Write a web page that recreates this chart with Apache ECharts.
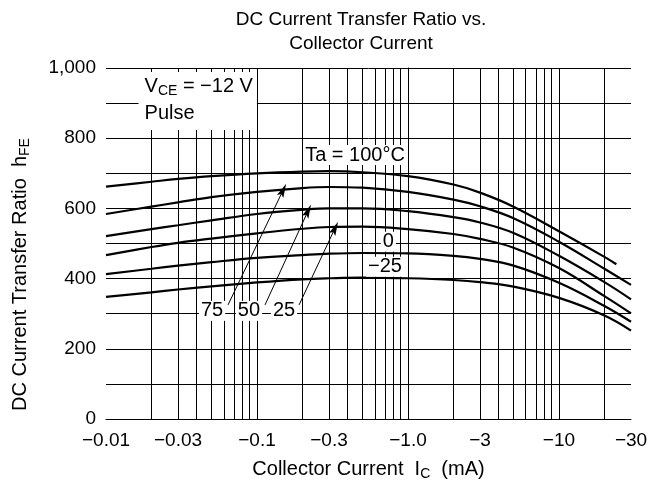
<!DOCTYPE html>
<html>
<head>
<meta charset="utf-8">
<script src="https://cdn.jsdelivr.net/npm/echarts@6/dist/echarts.min.js"></script>
<style>html,body{margin:0;padding:0;background:#fff}#c{width:663px;height:490px}</style>
</head>
<body>
<div id="c"></div>
<script>
// ---- data (collector current in mA, magnitude; hFE) ----
const currents    = [0.01,0.02,0.03,0.05,0.1,0.2,0.3,0.5,1,2,3,5,10,20,30];
const currents100 = [0.01,0.02,0.03,0.05,0.1,0.2,0.3,0.5,1,2,3,5,10,20,24];
const hfe100 = [662,676,684,692,700,705,706,703,692,668,645,605,535,462,441];
const hfe75  = [584,605,617,632,647,658,661,659,647,625,606,572,505,428,382];
const hfe50  = [521,541,552,566,584,596,600,600,592,575,560,530,465,390,341];
const hfe25  = [467,490,502,514,529,542,547,548,541,527,513,488,430,350,301];
const hfe0   = [413,428,437,447,459,467,471,473,472,465,456,437,388,322,277];
const hfeM25 = [348,361,369,378,389,398,401,403,401,396,390,377,345,295,252];

const tickCurrents = [0.01,0.03,0.1,0.3,1,3,10,30];
const tickLabels   = ['\u22120.01','\u22120.03','\u22120.1','\u22120.3','\u22121.0','\u22123','\u221210','\u221230'];
const gridCurrents = [0.02,0.03,0.04,0.05,0.06,0.07,0.08,0.09,0.1,0.2,0.3,0.4,0.5,0.6,0.7,0.8,0.9,1,2,3,4,5,6,7,8,9,10,20,30];

// annotation anchors (current mA, hFE)
const curveLabelPos = {ta100:[0.446,752], t0:[0.741,505], tm25:[0.704,434], t75:[0.0504,308], t50:[0.0885,308], t25:[0.151,308]};
const arrows = [ [[0.0643,325],[0.149,652]], [[0.113,325],[0.218,593]], [[0.19,325],[0.329,544]] ];
const condPos = [0.0163, 906];

const FONT = 'Liberation Sans, Arial, Helvetica, sans-serif';
const L = Math.log10;
const toPts = (xs, ys) => xs.map((x,i)=>[L(x), ys[i]]);

const chart = echarts.init(document.getElementById('c'), null, {renderer:'canvas'});

function curve(name, xs, ys){
  return {name, type:'line', data: toPts(xs, ys), smooth:0.4, showSymbol:false, symbol:'none',
    z:3, lineStyle:{color:'#000', width:2.2}, silent:true};
}

const richName = {
  n:{fontFamily:FONT, fontSize:20, color:'#000', lineHeight:28},
  s:{fontFamily:FONT, fontSize:14, color:'#000', lineHeight:28, padding:[10,0,0,0]}
};
const richLbl = {
  n:{fontFamily:FONT, fontSize:20, color:'#000', lineHeight:27},
  s:{fontFamily:FONT, fontSize:14, color:'#000', lineHeight:27, padding:[10,0,0,0]}
};

function textPoint(pos, text){
  return {coord:[L(pos[0]), pos[1]], symbol:'circle', symbolSize:1,
    itemStyle:{color:'rgba(0,0,0,0)'},
    label:{show:true, position:'inside', formatter:text, color:'#000', fontFamily:FONT, fontSize:20,
      backgroundColor:'#fff', padding:[0,2,0,2]}};
}

const option = {
  animation:false,
  title:{text:'DC Current Transfer Ratio vs.\nCollector Current', left:356, top:3, textAlign:'center',
    textStyle:{fontFamily:FONT, fontSize:19, fontWeight:'normal', color:'#000', lineHeight:24}},
  grid:{left:106, right:32, top:68, bottom:71},
  xAxis:{type:'value', min:L(0.01), max:L(30),
    axisLine:{show:true, lineStyle:{color:'#000', width:1}},
    axisTick:{show:false}, splitLine:{show:false},
    axisLabel:{customValues: tickCurrents.map(L), color:'#000', fontFamily:FONT, fontSize:19, margin:12,
      formatter:(v)=>{ let bi=0, bd=1e9; tickCurrents.forEach((c,i)=>{const d=Math.abs(L(c)-v); if(d<bd){bd=d;bi=i;}}); return tickLabels[bi]; }},
    name:'{n|Collector Current  I}{s|C}{n|  (mA)}', nameLocation:'middle', nameGap:36,
    nameTextStyle:{rich:richName}},
  yAxis:{type:'value', min:0, max:1000, interval:100,
    axisLine:{show:true, lineStyle:{color:'#000', width:1}},
    axisTick:{show:false},
    splitLine:{show:true, lineStyle:{color:'#000', width:1}},
    axisLabel:{color:'#000', fontFamily:FONT, fontSize:19, margin:10,
      formatter:(v)=> v%200===0 ? v.toLocaleString('en-US') : ''},
    name:'{n|DC Current Transfer Ratio  h}{s|FE}', nameLocation:'middle', nameGap:72, nameRotate:90,
    nameTextStyle:{rich:richName, padding:[0,62,0,0]}},
  series:[
    {type:'line', data:[], z:1, silent:true,
      markLine:{silent:true, symbol:'none', animation:false, label:{show:false},
        lineStyle:{color:'#000', width:1, type:'solid'},
        data: gridCurrents.map(c=>({xAxis:L(c)}))}},
    curve('100', currents100, hfe100),
    curve('75', currents, hfe75),
    curve('50', currents, hfe50),
    curve('25', currents, hfe25),
    curve('0', currents, hfe0),
    curve('-25', currents, hfeM25),
    {type:'line', data:[], z:5, silent:true, itemStyle:{color:'#000'},
      markLine:{silent:true, symbol:['none','path://M5,0 L10,16 L5,13 L0,16 Z'], symbolSize:[7,14], animation:false, label:{show:false},
        itemStyle:{color:'#000'},
        lineStyle:{color:'#000', width:1, type:'solid'},
        data: arrows.map(a=>[{coord:[L(a[0][0]),a[0][1]]},{coord:[L(a[1][0]),a[1][1]]}])},
      markPoint:{silent:true, animation:false,
        data:[
          textPoint(curveLabelPos.ta100, 'Ta = 100\u00b0C'),
          textPoint(curveLabelPos.t0, '0'),
          textPoint(curveLabelPos.tm25, '\u221225'),
          textPoint(curveLabelPos.t75, '75'),
          textPoint(curveLabelPos.t50, '50'),
          textPoint(curveLabelPos.t25, '25'),
          {coord:[L(condPos[0]), condPos[1]], symbol:'circle', symbolSize:1, itemStyle:{color:'rgba(0,0,0,0)'},
            label:{show:true, position:'right', distance:0, align:'left',
              formatter:'{n|V}{s|CE}{n| = \u221212 V}\n{n|Pulse}', backgroundColor:'#fff', padding:[1,4,3,6], rich:richLbl}}
        ]}}
  ]
};
chart.setOption(option);
</script>
</body>
</html>
